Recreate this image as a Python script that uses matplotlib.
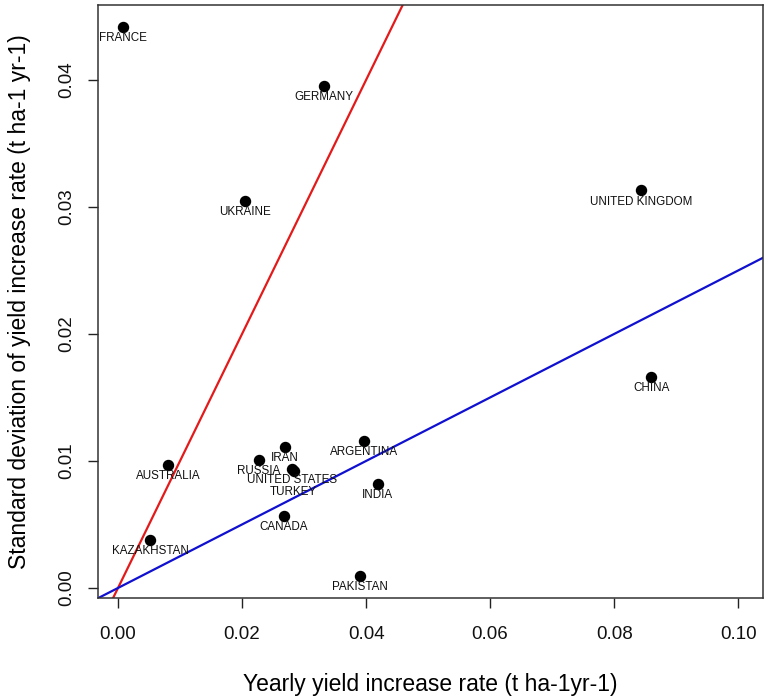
import matplotlib
matplotlib.use('Agg')
import matplotlib.pyplot as plt

plt.rcParams['font.family'] = ['Liberation Sans', 'DejaVu Sans']

# country data
countries = ['FRANCE', 'GERMANY', 'UKRAINE', 'UNITED KINGDOM', 'CHINA', 'AUSTRALIA',
             'KAZAKHSTAN', 'RUSSIA', 'IRAN', 'UNITED STATES', 'TURKEY', 'CANADA',
             'ARGENTINA', 'INDIA', 'PAKISTAN']
rate = [0.00075, 0.0332, 0.0205, 0.0844, 0.0860, 0.0081,
        0.0052, 0.0227, 0.0269, 0.0281, 0.0283, 0.0267,
        0.0397, 0.0419, 0.0390]
sd = [0.0442, 0.0395, 0.0305, 0.0313, 0.01664, 0.00971,
      0.00378, 0.01008, 0.01113, 0.00935, 0.0092, 0.00564,
      0.01155, 0.00819, 0.00094]
# reference lines: y = slope * x
slopes = [1.0, 0.25]
line_colors = ['#e41a1a', '#1010d0']

label_dy = [-8] * len(countries)
label_dy[countries.index('TURKEY')] = -15

fig = plt.figure(figsize=(7.69, 6.99), dpi=100)
ax = fig.add_axes([0.1274, 0.1445, 0.8648, 0.8483])

ax.scatter(rate, sd, s=52, color='black', zorder=3)
for name, x, y, dy in zip(countries, rate, sd, label_dy):
    ax.annotate(name, (x, y), xytext=(0, dy), textcoords='offset points',
                ha='center', va='center', fontsize=8.4, color='#111111', zorder=4)

xlim = (-0.00323, 0.104)
ylim = (-0.00079, 0.0459)
for k, c in zip(slopes, line_colors):
    ax.plot([xlim[0], xlim[1]], [k * xlim[0], k * xlim[1]], color=c, lw=1.6, zorder=2)

ax.set_xlim(*xlim)
ax.set_ylim(*ylim)
ax.set_xticks([0.00, 0.02, 0.04, 0.06, 0.08, 0.10])
ax.set_yticks([0.00, 0.01, 0.02, 0.03, 0.04])
ax.set_xticklabels(['0.00', '0.02', '0.04', '0.06', '0.08', '0.10'])
ax.set_yticklabels(['0.00', '0.01', '0.02', '0.03', '0.04'], rotation=90, va='center')
ax.tick_params(direction='out', length=7, width=1, colors='#222222', labelsize=13.5,
               labelcolor='#111111')
ax.tick_params(axis='x', pad=13)
ax.tick_params(axis='y', pad=9)
for sp in ax.spines.values():
    sp.set_color('#333333')
    sp.set_linewidth(1.1)

ax.set_xlabel('Yearly yield increase rate (t ha-1yr-1)', fontsize=16.5, labelpad=22)
ax.set_ylabel('Standard deviation of yield increase rate (t ha-1 yr-1)', fontsize=16.5, labelpad=20)

fig.savefig('out.png', dpi=100)
